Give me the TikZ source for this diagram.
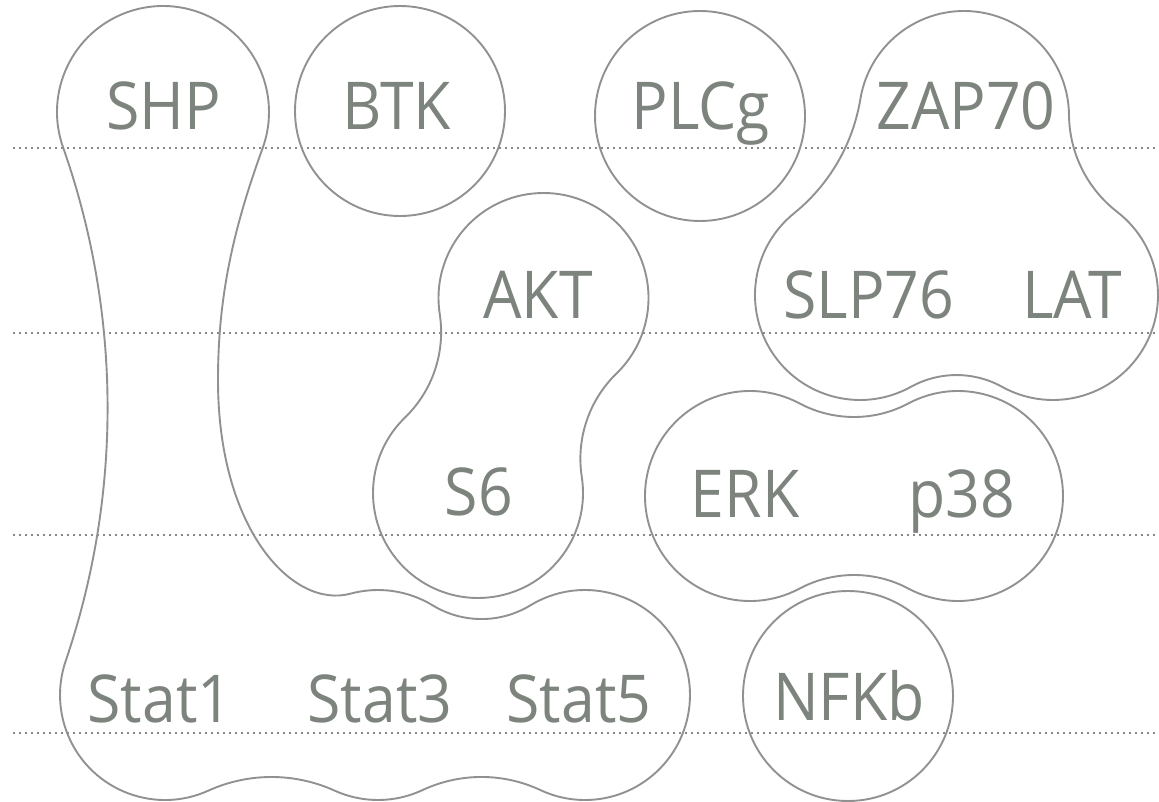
\documentclass[tikz,border=0pt]{standalone}
\usepackage{fontspec}
\setmainfont{Open Sans}[FakeStretch=0.92]
\usepackage{xfp}
\definecolor{txtc}{RGB}{125,131,125}
\definecolor{linec}{RGB}{145,145,145}
\definecolor{dotc}{RGB}{135,135,135}
% bridge between circle A (#2,#3,r=#4) and circle B (#5,#6,r=#7) with concave radius #8
\newcommand\mkbridge[8]{%
 \edef\qqDx{\fpeval{(#5)-(#2)}}%
 \edef\qqDy{\fpeval{(#6)-(#3)}}%
 \edef\qqD{\fpeval{sqrt((\qqDx)*(\qqDx)+(\qqDy)*(\qqDy))}}%
 \edef\qqP{\fpeval{(#4)+(#8)}}%
 \edef\qqQ{\fpeval{(#7)+(#8)}}%
 \edef\qqT{\fpeval{((\qqD)*(\qqD)+(\qqP)*(\qqP)-(\qqQ)*(\qqQ))/(2*(\qqD))}}%
 \edef\qqH{\fpeval{sqrt((\qqP)*(\qqP)-(\qqT)*(\qqT))}}%
 \edef\qqUx{\fpeval{(\qqDx)/(\qqD)}}%
 \edef\qqUy{\fpeval{(\qqDy)/(\qqD)}}%
 \edef\qqPx{\fpeval{(#2)+(\qqT)*(\qqUx)+(\qqH)*(\qqUy)}}%
 \edef\qqPy{\fpeval{(#3)+(\qqT)*(\qqUy)-(\qqH)*(\qqUx)}}%
 \expandafter\edef\csname #1a\endcsname{\fpeval{round(atand((\qqPy)-(#3),(\qqPx)-(#2)),3)}}%
 \expandafter\edef\csname #1b\endcsname{\fpeval{round(atand((\qqPy)-(#6),(\qqPx)-(#5)),3)}}%
 \edef\qqS{\fpeval{atand((#3)-(\qqPy),(#2)-(\qqPx))}}%
 \edef\qqE{\fpeval{atand((#6)-(\qqPy),(#5)-(\qqPx))}}%
 \expandafter\edef\csname #1s\endcsname{\fpeval{round(\qqS,3)}}%
 \expandafter\edef\csname #1e\endcsname{\fpeval{round((\qqS)+((\qqE)-(\qqS)+540)-360*floor(((\qqE)-(\qqS)+540)/360)-180,3)}}%
 \expandafter\edef\csname #1R\endcsname{#8}%
}
\newcommand\mkend[3]{%
 \expandafter\edef\csname #1\endcsname{\fpeval{round((#2)+((#3)-(#2)+720)-360*floor(((#3)-(#2)+720)/360),3)}}%
}
% AKT / S6
\mkbridge{bqAS}{543.5}{298}{105}{478}{493}{105}{119}
\mkbridge{bqSA}{478}{493}{105}{543.5}{298}{105}{119}
\mkend{eAKT}{\bqSAb}{\bqASa}
\mkend{eSsix}{\bqASb}{\bqSAa}
% ZAP70 / LAT / SLP76
\mkbridge{bqZL}{964}{116}{105}{1053}{295}{105}{124}
\mkbridge{bqLS}{1053}{295}{105}{860}{295}{105}{94}
\mkbridge{bqSZ}{860}{295}{105}{964}{116}{105}{186}
\mkend{eZAP}{\bqSZb}{\bqZLa}
\mkend{eLAT}{\bqZLb}{\bqLSa}
\mkend{eSLP}{\bqLSb}{\bqSZa}
% ERK / p38
\mkbridge{bqEP}{750}{496}{105}{958}{496}{105}{116}
\mkbridge{bqPE}{958}{496}{105}{750}{496}{105}{116}
\mkend{eERK}{\bqPEb}{\bqEPa}
\mkend{ePtt}{\bqEPb}{\bqPEa}
% SHP / Stat1 / Stat3 / Stat5
\mkbridge{bqTT}{378}{695}{105}{585}{695}{105}{94}
\mkbridge{bqBF}{585}{695}{105}{378}{695}{105}{139}
\mkbridge{bqBO}{378}{695}{105}{165}{695}{105}{153}
\mkbridge{bqLL}{165}{695}{105}{163}{112}{106}{785}
\mkend{eSHP}{\bqLLb}{20}
\mkend{eSthreeT}{255}{\bqTTa}
\mkend{eSfive}{\bqTTb}{\bqBFa}
\mkend{eSthreeB}{\bqBFb}{\bqBOa}
\mkend{eSone}{\bqBOb}{\bqLLa}
\begin{document}
\begin{tikzpicture}[x=1pt,y=-1pt,
  blob/.style={draw=linec, line width=1.9pt},
  guide/.style={draw=dotc, line width=1.5pt, dash pattern=on 1.5pt off 4.5pt},
  lbl/.style={font=\fontsize{66}{70}\selectfont, text=txtc, anchor=base, inner sep=0pt}]
\useasboundingbox (0,0) rectangle (1159,802);
% dotted guide lines
\foreach \yy in {148,333,535,733} {\draw[guide] (13,\yy) -- (1159,\yy);}
% single circles
\draw[blob] (400,111) circle[radius=105];
\draw[blob] (700,116) circle[radius=105];
\draw[blob] (848,696) circle[radius=105];
% AKT / S6
\draw[blob] (543.5,298) ++(\bqSAb:105)
  arc[start angle=\bqSAb, end angle=\eAKT, radius=105]
  arc[start angle=\bqASs, end angle=\bqASe, radius=\bqASR]
  arc[start angle=\bqASb, end angle=\eSsix, radius=105]
  arc[start angle=\bqSAs, end angle=\bqSAe, radius=\bqSAR] -- cycle;
% ZAP70 / LAT / SLP76
\draw[blob] (964,116) ++(\bqSZb:105)
  arc[start angle=\bqSZb, end angle=\eZAP, radius=105]
  arc[start angle=\bqZLs, end angle=\bqZLe, radius=\bqZLR]
  arc[start angle=\bqZLb, end angle=\eLAT, radius=105]
  arc[start angle=\bqLSs, end angle=\bqLSe, radius=\bqLSR]
  arc[start angle=\bqLSb, end angle=\eSLP, radius=105]
  arc[start angle=\bqSZs, end angle=\bqSZe, radius=\bqSZR] -- cycle;
% ERK / p38
\draw[blob] (750,496) ++(\bqPEb:105)
  arc[start angle=\bqPEb, end angle=\eERK, radius=105]
  arc[start angle=\bqEPs, end angle=\bqEPe, radius=\bqEPR]
  arc[start angle=\bqEPb, end angle=\ePtt, radius=105]
  arc[start angle=\bqPEs, end angle=\bqPEe, radius=\bqPER] -- cycle;
% SHP / Stat1 / Stat3 / Stat5
\draw[blob] (163,112) ++(\bqLLb:106)
  arc[start angle=\bqLLb, end angle=\eSHP, radius=106]
  .. controls (231.8,232.9) and (218,300) .. (218,380)
  .. controls (218,530) and (293,609.5) .. (350.82,593.58)
  arc[start angle=255, end angle=\eSthreeT, radius=105]
  arc[start angle=\bqTTs, end angle=\bqTTe, radius=\bqTTR]
  arc[start angle=\bqTTb, end angle=\eSfive, radius=105]
  arc[start angle=\bqBFs, end angle=\bqBFe, radius=\bqBFR]
  arc[start angle=\bqBFb, end angle=\eSthreeB, radius=105]
  arc[start angle=\bqBOs, end angle=\bqBOe, radius=\bqBOR]
  arc[start angle=\bqBOb, end angle=\eSone, radius=105]
  arc[start angle=\bqLLs, end angle=\bqLLe, radius=\bqLLR] -- cycle;
% labels
\node[lbl] (shp) at (164,130) {SHP};
\node[lbl] (btk) at (397,130) {BTK};
\node[lbl] (plcg) at (701,130) {PLCg};
\node[lbl] (zap) at (966,130) {ZAP70};
\node[lbl] (akt) at (538,318) {AKT};
\node[lbl] (slp) at (869,318) {SLP76};
\node[lbl] (lat) at (1072,318) {LAT};
\node[lbl] (ssix) at (479,515) {S6};
\node[lbl] (erk) at (745,517) {ERK};
\node[lbl] (ptt) at (962,517) {p38};
\node[lbl] (stone) at (160,722) {Stat1};
\node[lbl] (stthree) at (380,722) {Stat3};
\node[lbl] (stfive) at (579,722) {Stat5};
\node[lbl] (nfkb) at (849,720) {NFKb};
\end{tikzpicture}
\end{document}
